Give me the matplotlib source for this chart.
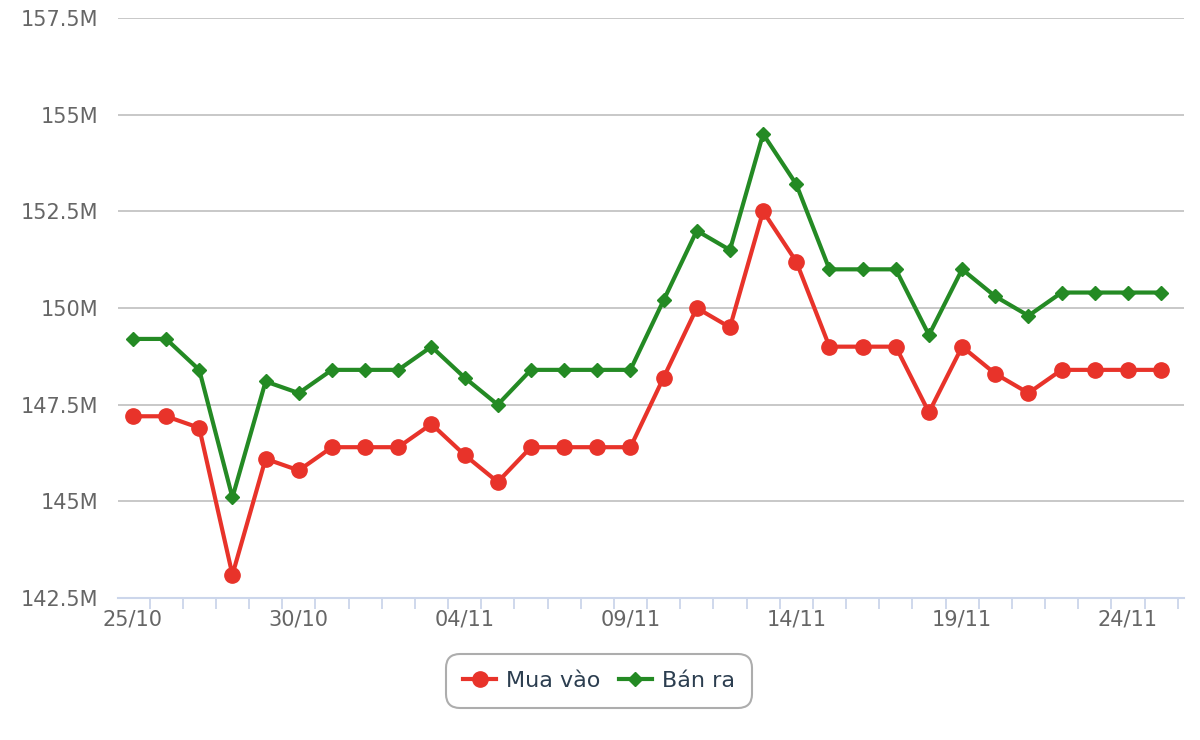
import matplotlib
matplotlib.use("Agg")
import matplotlib.pyplot as plt
from matplotlib.ticker import FixedLocator

dates = ["25/10", "26/10", "27/10", "28/10", "29/10", "30/10", "31/10", "01/11",
         "02/11", "03/11", "04/11", "05/11", "06/11", "07/11", "08/11", "09/11",
         "10/11", "11/11", "12/11", "13/11", "14/11", "15/11", "16/11", "17/11",
         "18/11", "19/11", "20/11", "21/11", "22/11", "23/11", "24/11", "25/11"]
mua_vao = [147.2, 147.2, 146.9, 143.1, 146.1, 145.8, 146.4, 146.4,
           146.4, 147.0, 146.2, 145.5, 146.4, 146.4, 146.4, 146.4,
           148.2, 150.0, 149.5, 152.5, 151.2, 149.0, 149.0, 149.0,
           147.3, 149.0, 148.3, 147.8, 148.4, 148.4, 148.4, 148.4]
ban_ra = [149.2, 149.2, 148.4, 145.1, 148.1, 147.8, 148.4, 148.4,
          148.4, 149.0, 148.2, 147.5, 148.4, 148.4, 148.4, 148.4,
          150.2, 152.0, 151.5, 154.5, 153.2, 151.0, 151.0, 151.0,
          149.3, 151.0, 150.3, 149.8, 150.4, 150.4, 150.4, 150.4]
y_ticks = [142.5, 145, 147.5, 150, 152.5, 155, 157.5]
y_labels = ["142.5M", "145M", "147.5M", "150M", "152.5M", "155M", "157.5M"]

RED = "#e8332a"
GREEN = "#248a24"
LABEL = "#666666"

fig = plt.figure(figsize=(12, 7.4), dpi=100)
ax = fig.add_axes([118/1200, 1 - 598/740, (1184-118)/1200, (598-18)/740])

x = list(range(len(dates)))
ax.plot(x, mua_vao, color=RED, lw=3, marker="o", ms=11, zorder=3, label="Mua vào")
ax.plot(x, ban_ra, color=GREEN, lw=3, marker="D", ms=7.5, zorder=4, label="Bán ra")

ax.set_xlim(-0.45, len(dates) - 1 + 0.69)
ax.set_ylim(142.5, 157.5)
ax.set_yticks(y_ticks)
ax.set_yticklabels(y_labels)
ax.yaxis.grid(True, color="#c4c4c4", lw=1.3)
ax.set_axisbelow(True)

lab_pos = [i for i in x if i % 5 == 0]
ax.xaxis.set_major_locator(FixedLocator(lab_pos))
ax.set_xticklabels([dates[i] for i in lab_pos])
ax.xaxis.set_minor_locator(FixedLocator([i - 0.5 for i in range(len(dates) + 1)]))
ax.tick_params(axis="x", which="major", length=0, pad=8, labelsize=15, labelcolor=LABEL)
ax.tick_params(axis="x", which="minor", length=8, width=1.3, color="#ccd6eb", direction="out")
ax.tick_params(axis="y", length=0, pad=14, labelsize=15, labelcolor=LABEL)

for s in ["top", "right", "left"]:
    ax.spines[s].set_visible(False)
ax.spines["bottom"].set_color("#ccd6eb")
ax.spines["bottom"].set_linewidth(1.5)

leg = fig.legend(loc="center", bbox_to_anchor=(599/1200, 1 - 681/740), ncol=2,
                 fontsize=16, frameon=True, fancybox=True, edgecolor="#999999",
                 handlelength=1.5, handletextpad=0.45, columnspacing=0.8,
                 borderpad=0.75, labelcolor="#2c3e50")
leg.get_frame().set_linewidth(1.5)
leg.get_frame().set_boxstyle("round", pad=0.0, rounding_size=0.6)

fig.savefig("out.png", dpi=100, facecolor="white")
